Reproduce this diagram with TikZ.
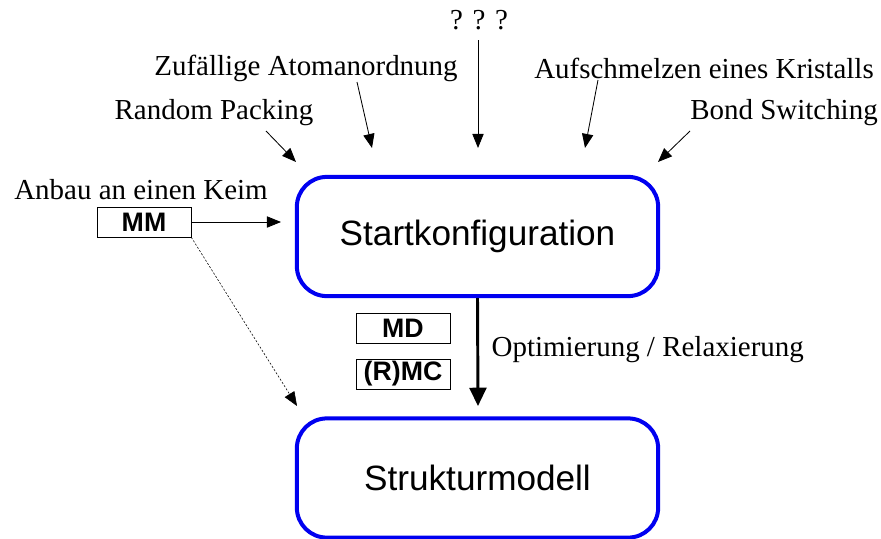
\documentclass[tikz,border=0pt]{standalone}
\usepackage{fontspec}
\setmainfont{Liberation Serif}
\setsansfont{Liberation Sans}
\usetikzlibrary{positioning, arrows.meta}

\definecolor{boxblue}{RGB}{0,0,240}

\begin{document}
\begin{tikzpicture}[x=0.025cm, y=-0.025cm]
    \tikzstyle{stage} = [draw=boxblue, line width=2.85pt, rounded corners=0.75cm, minimum width=9.03cm, minimum height=2.98cm, font=\sffamily\fontsize{25}{30}\selectfont];
    \tikzstyle{method} = [draw, thin, rectangle, minimum width=2.35cm, minimum height=0.75cm, inner sep=0pt, font=\sffamily\bfseries\fontsize{19}{22}\selectfont];
    \tikzstyle{label} = [inner sep=1pt, font=\fontsize{20.6}{24}\selectfont];
    \tikzstyle{hint} = [-{Triangle[length=10pt, width=8pt]}, semithick];

    \useasboundingbox (0, 0) rectangle (881, 539);

    \node[stage] at (477.5, 236.5) (start) {Startkonfiguration};
    \node[stage] at (477.5, 478) (model) {Strukturmodell};

    % Ansaetze fuer die Startkonfiguration
    \node[label] at (479, 20) (qqq) {? ? ?};
    \node[label] at (306, 68) (zufall) {Zufällige Atomanordnung};
    \node[label] at (704, 68) (schmelz) {Aufschmelzen eines Kristalls};
    \node[label] at (214, 113) (packing) {Random Packing};
    \node[label] at (784, 113) (bond) {Bond Switching};
    \node[label] at (141, 190) (keim) {Anbau an einen Keim};

    \coordinate (qqqA) at (478, 40);
    \coordinate (qqqB) at (478, 148);
    \coordinate (zufallA) at (357, 82);
    \coordinate (zufallB) at (372, 148);
    \coordinate (schmelzA) at (598, 80);
    \coordinate (schmelzB) at (585, 148);
    \coordinate (packingA) at (266, 131);
    \coordinate (packingB) at (296, 162);
    \coordinate (bondA) at (690, 131);
    \coordinate (bondB) at (658, 162);

    \draw[hint] (qqqA) -- (qqqB);
    \draw[hint] (zufallA) -- (zufallB);
    \draw[hint] (schmelzA) -- (schmelzB);
    \draw[hint] (packingA) -- (packingB);
    \draw[hint] (bondA) -- (bondB);

    % Methoden
    \node[method] at (144, 222) (mm) {MM};
    \node[method] at (403, 328) (md) {MD};
    \node[method] at (403, 374) (rmc) {(R)MC};

    \coordinate (mmB) at (281, 222);
    \coordinate (mmC) at (297, 406);
    \draw[hint] (mm.east) -- (mmB);
    \draw[hint, thin, dash pattern=on 1.5pt off 1.2pt] (mm.south east) -- (mmC);

    \coordinate (relax) at (478, 406);
    \draw[line width=2.1pt, -{Triangle[length=13pt, width=12pt]}] (start.south) -- (relax);
    \node[label, anchor=west] at (490, 350) (opt) {Optimierung / Relaxierung};
\end{tikzpicture}
\end{document}
